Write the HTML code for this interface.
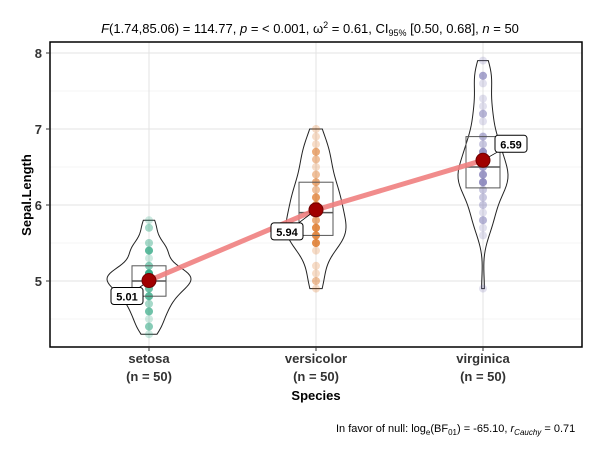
<!DOCTYPE html>
<html><head><meta charset="utf-8"><style>
html,body{margin:0;padding:0;background:#fff;}
svg text{font-family:"Liberation Sans",Arial,sans-serif;}
</style></head><body>
<svg id="chart" width="600" height="457" xmlns="http://www.w3.org/2000/svg">
<g id="grid"></g>
<g id="marks"></g>
<rect x="50" y="42" width="532" height="305" fill="none" stroke="#000" stroke-width="1.5"/>
<g id="axes"></g>
<text x="310" y="33" text-anchor="middle" font-size="13" fill="#000"><tspan font-style="italic">F</tspan>(1.74,85.06) = 114.77, <tspan font-style="italic">p</tspan> = &lt; 0.001, ω<tspan dy="-5" font-size="9">2</tspan><tspan dy="5"> = 0.61, CI</tspan><tspan dy="3" font-size="9">95%</tspan><tspan dy="-3"> [0.50, 0.68], </tspan><tspan font-style="italic">n</tspan> = 50</text>
<text x="316" y="400" text-anchor="middle" font-size="13" font-weight="bold">Species</text>
<text transform="translate(31,195) rotate(-90)" text-anchor="middle" font-size="13" font-weight="bold">Sepal.Length</text>
<text x="336" y="432" font-size="11" fill="#000">In favor of null: log<tspan dy="3" font-size="8">e</tspan><tspan dy="-3">(BF</tspan><tspan dy="3" font-size="8">01</tspan><tspan dy="-3">) = -65.10, </tspan><tspan font-style="italic">r</tspan><tspan dy="3" font-size="8" font-style="italic">Cauchy</tspan><tspan dy="-3"> = 0.71</tspan></text>
</svg>
<script>
const categories=["setosa","versicolor","virginica"];
const setosaValues=[5.1,4.9,4.7,4.6,5.0,5.4,4.6,5.0,4.4,4.9,5.4,4.8,4.8,4.3,5.8,5.7,5.4,5.1,5.7,5.1,5.4,5.1,4.6,5.1,4.8,5.0,5.0,5.2,5.2,4.7,4.8,5.4,5.2,5.5,4.9,5.0,5.5,4.9,4.4,5.1,5.0,4.5,4.4,5.0,5.1,4.8,5.1,4.6,5.3,5.0];
const versicolorValues=[7.0,6.4,6.9,5.5,6.5,5.7,6.3,4.9,6.6,5.2,5.0,5.9,6.0,6.1,5.6,6.7,5.6,5.8,6.2,5.6,5.9,6.1,6.3,6.1,6.4,6.6,6.8,6.7,6.0,5.7,5.5,5.5,5.8,6.0,5.4,6.0,6.7,6.3,5.6,5.5,5.5,6.1,5.8,5.0,5.6,5.7,5.7,6.2,5.1,5.7];
const virginicaValues=[6.3,5.8,7.1,6.3,6.5,7.6,4.9,7.3,6.7,7.2,6.5,6.4,6.8,5.7,5.8,6.4,6.5,7.7,7.7,6.0,6.9,5.6,7.7,6.3,6.7,7.2,6.2,6.1,6.4,7.2,7.4,7.9,6.4,6.3,6.1,7.7,6.3,6.4,6.0,6.9,6.7,6.9,5.8,6.8,6.7,6.7,6.3,6.5,6.2,5.9];
const meanLabels=["5.01","5.94","6.59"];
const yTicks=[5,6,7,8];
const yMinor=[4.5,5.5,6.5,7.5];

const NS="http://www.w3.org/2000/svg";
const colors=["#1B9E77","#D95F02","#7570B3"];
const violinMax=[42,30,25];
const labelOff=[[-22,16],[-29,22],[28,-16]];
const yS=v=>281-(v-5)*76;
const xS=i=>149+i*167;
function mk(p,t,a){const e=document.createElementNS(NS,t);for(const k in a)e.setAttribute(k,a[k]);p.appendChild(e);return e;}
const grid=document.getElementById('grid'),marks=document.getElementById('marks'),axes=document.getElementById('axes');
yMinor.forEach(v=>{const l=mk(grid,'line',{x1:50,x2:582,y1:yS(v),y2:yS(v),stroke:'#f0f0f0','stroke-width':0.8});

});
yTicks.forEach(v=>{const l=mk(grid,'line',{x1:50,x2:582,y1:yS(v),y2:yS(v),stroke:'#e3e3e3','stroke-width':1});


const t=mk(axes,'text',{x:42,y:yS(v)+5,'text-anchor':'end','font-size':13,'font-weight':'bold',fill:'#333'});t.textContent=v;


mk(axes,'line',{x1:46,x2:50,y1:yS(v),y2:yS(v),stroke:'#333'});});
const all=[setosaValues,versicolorValues,virginicaValues];
const q=(a,p)=>{const s=[...a].sort((x,y)=>x-y);const h=(s.length-1)*p,l=Math.floor(h);return s[l]+(s[Math.min(l+1,s.length-1)]-s[l])*(h-l);};
const means=all.map(a=>a.reduce((s,v)=>s+v,0)/a.length);
categories.forEach((c,i)=>{
  const x=xS(i);
  const vl=mk(grid,'line',{x1:x,x2:x,y1:42,y2:347,stroke:'#e3e3e3'});
  
  
  const a=all[i],n=a.length,mn=Math.min(...a),mx=Math.max(...a);
  const m=a.reduce((s,v)=>s+v,0)/n,sd=Math.sqrt(a.reduce((s,v)=>s+(v-m)*(v-m),0)/(n-1));
  const iqr=q(a,.75)-q(a,.25);const bw=0.9*Math.min(sd,iqr/1.34)*Math.pow(n,-0.2);
  const ys=[],ds=[];for(let k=0;k<=60;k++){const y=mn+(mx-mn)*k/60;let d=0;a.forEach(v=>{d+=Math.exp(-0.5*((y-v)/bw)**2);});ys.push(y);ds.push(d);}
  const dm=Math.max(...ds);
  let p='';ys.forEach((y,k)=>{p+=(k?'L':'M')+(x+ds[k]/dm*violinMax[i])+','+yS(y);});
  for(let k=ys.length-1;k>=0;k--)p+='L'+(x-ds[k]/dm*violinMax[i])+','+yS(ys[k]);
  const v=mk(marks,'path',{d:p+'Z',fill:'none',stroke:'#222','stroke-width':1});
  
  
  a.forEach(val=>{const d=mk(marks,'circle',{cx:x,cy:yS(val),r:4,fill:colors[i],'fill-opacity':0.22});
  
  });
  const q1=q(a,.25),q3=q(a,.75),md=q(a,.5);
  const b=mk(marks,'rect',{x:x-17,y:yS(q3),width:34,height:yS(q1)-yS(q3),fill:'none',stroke:'#555','stroke-width':1});
  
  
  const ml=mk(marks,'line',{x1:x-17,x2:x+17,y1:yS(md),y2:yS(md),stroke:'#555','stroke-width':1.5});
  
  
  const t1=mk(axes,'text',{x:x,y:363,'text-anchor':'middle','font-size':13,'font-weight':'bold',fill:'#333'});t1.textContent=c;
  
  
  const t2=mk(axes,'text',{x:x,y:381,'text-anchor':'middle','font-size':13,'font-weight':'bold',fill:'#333'});t2.textContent='(n = '+n+')';
  
  
  mk(axes,'line',{x1:x,x2:x,y1:347,y2:351,stroke:'#333'});
});
let lp='';means.forEach((m,i)=>{lp+=(i?'L':'M')+xS(i)+','+yS(m);});
const ln=mk(marks,'path',{d:lp,fill:'none',stroke:'#F08080','stroke-width':5,'stroke-opacity':0.9});


means.forEach((m,i)=>{
  const x=xS(i),y=yS(m),lx=x+labelOff[i][0],ly=y+labelOff[i][1];
  mk(marks,'line',{x1:x,y1:y,x2:lx,y2:ly,stroke:'#000','stroke-width':0.8});
  const c=mk(marks,'circle',{cx:x,cy:y,r:7,fill:'#A00000',stroke:'#700000'});
  
  
  const r=mk(marks,'rect',{x:lx-16,y:ly-9,width:32,height:17,rx:3,fill:'#fff',stroke:'#000','stroke-width':1});
  
  
  const t=mk(marks,'text',{x:lx,y:ly+4,'text-anchor':'middle','font-size':11,'font-weight':'bold'});t.textContent=meanLabels[i];
  
  
});
</script>
</body></html>
